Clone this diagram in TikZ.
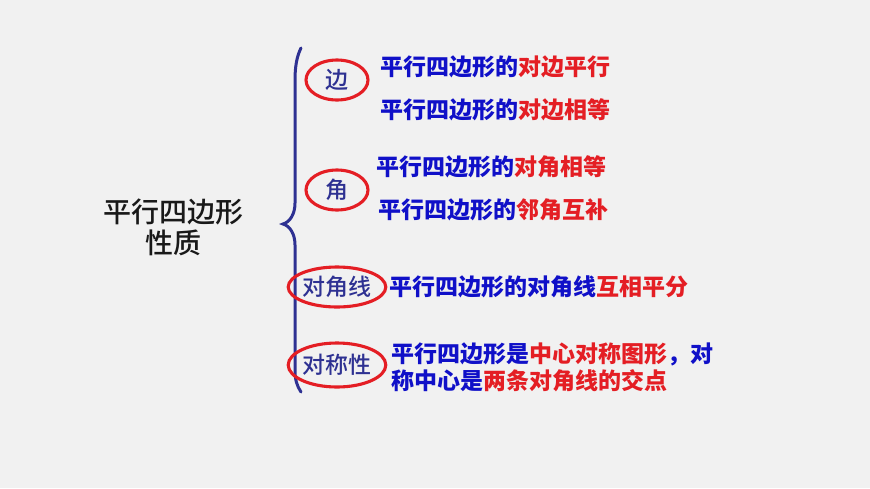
\documentclass[tikz,border=0pt]{standalone}
\usepackage{fontspec}
\usepackage{xcolor}
\usepackage{tikz}
\usetikzlibrary{shapes.geometric,positioning}

\newfontfamily\cjk{Noto Sans CJK SC}
\newfontfamily\cjkm{Noto Sans CJK SC Medium}
\definecolor{bgcol}{RGB}{241,241,241}
\definecolor{navy}{RGB}{46,49,146}
\definecolor{txtblue}{RGB}{16,16,200}
\definecolor{txtred}{RGB}{228,30,36}

\tikzset{
    ring/.style={draw=txtred,line width=3.1pt,ellipse,minimum width=62,minimum height=40,
        inner sep=0pt,text=navy,font=\cjkm\fontsize{23}{25}\selectfont},
    fact/.style={anchor=west,inner sep=0pt,text=txtblue,align=left,
        font=\cjk\bfseries\fontsize{23}{27}\selectfont},
}
\newcommand{\hl}[1]{\textcolor{txtred}{#1}}

\begin{document}
\begin{tikzpicture}[x=1pt,y=-1pt]
    \fill[bgcol] (0,0) rectangle (870,488);
    \useasboundingbox (0,0) rectangle (870,488);

    % title
    \node[align=center,font=\cjkm\fontsize{28}{31}\selectfont,text=black!90] (title) at (173,227)
        {平行四边形\\性质};

    % brace
    \draw[navy,line width=3pt,line cap=round]
        (301,48) .. controls (297,56) and (295,66) .. (295,80) -- (295,203)
        .. controls (295,214) and (290,222) .. (283,224)
        .. controls (290,226) and (295,234) .. (295,245) -- (295,370)
        .. controls (295,380) and (297,386) .. (301,392);

    % categories
    \node[ring] (bian) at (337,80) {边};
    \node[ring] (jiao) at (337,190) {角};
    \node[ring,minimum width=72] (djx) at (337,287) {对角线};
    \node[ring,minimum width=76,minimum height=44] (dcx) at (337,365) {对称性};

    % properties
    \node[fact] (f1) at (380,67) {平行四边形的\hl{对边平行}};
    \node[fact] (f2) at (380,110) {平行四边形的\hl{对边相等}};
    \node[fact] (f3) at (376,167) {平行四边形的\hl{对角相等}};
    \node[fact] (f4) at (378,210) {平行四边形的\hl{邻角互补}};
    \node[fact] (f5) at (389,287) {平行四边形的对角线\hl{互相平分}};
    \node[fact] (f6) at (391,367) {平行四边形是\hl{中心对称图形}，对\\称中心是\hl{两条对角线的交点}};
\end{tikzpicture}
\end{document}
